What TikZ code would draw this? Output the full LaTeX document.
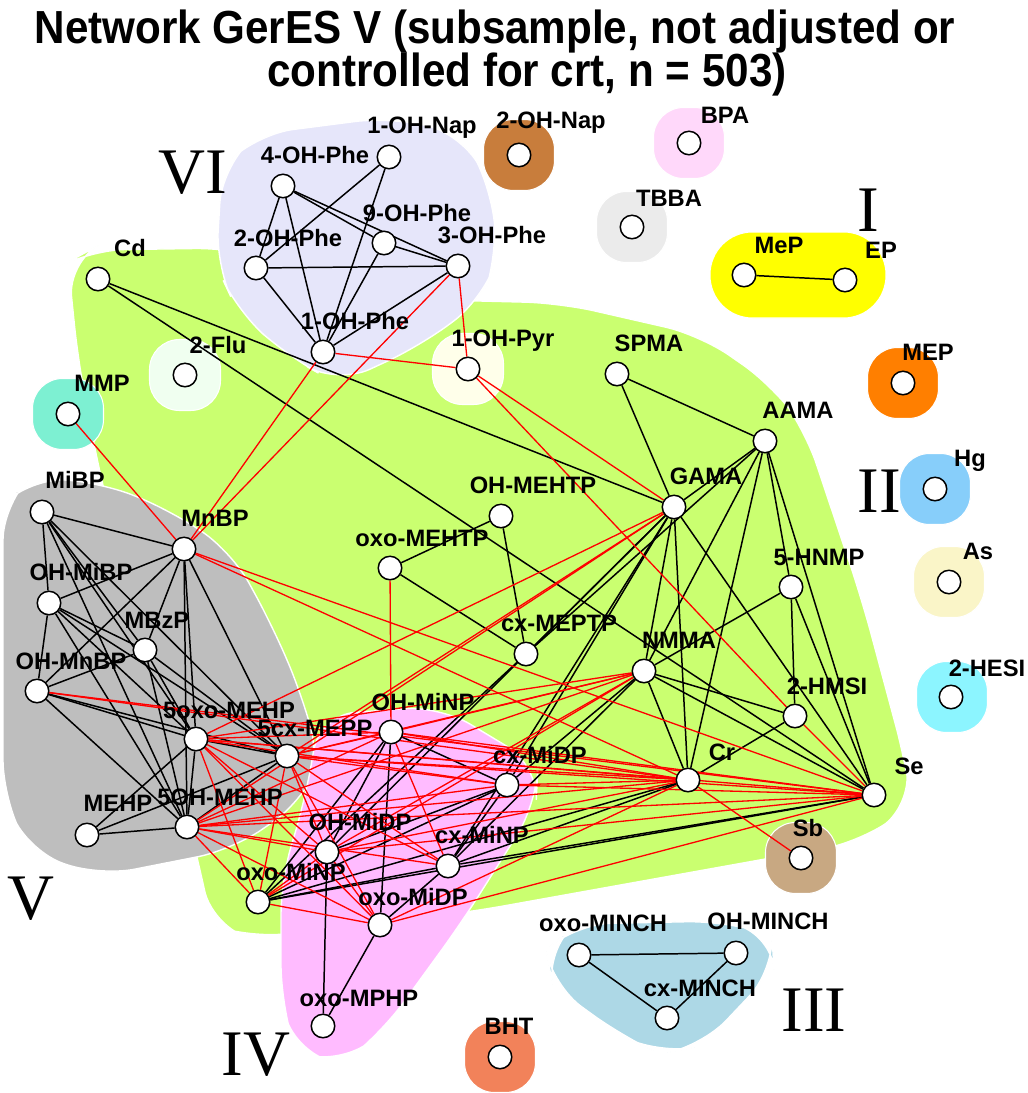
\documentclass[tikz,border=0pt]{standalone}
\usepackage{fontspec}
\setmainfont{Liberation Sans}
\newfontfamily\romanfont{Liberation Serif}
\pgfdeclarelayer{hulls}
\pgfdeclarelayer{links}
\pgfsetlayers{hulls,links,main}
\definecolor{gGreen}{HTML}{CAFF70}
\definecolor{gGray}{HTML}{BEBEBE}
\definecolor{gPink}{HTML}{FFBBFF}
\definecolor{gLav}{HTML}{E6E6FA}
\definecolor{gLBlue}{HTML}{ADD8E6}
\definecolor{gYellow}{HTML}{FFFF00}
\definecolor{gBrown}{HTML}{C87D3C}
\definecolor{gThistle}{HTML}{FFD8FA}
\definecolor{gLGray}{HTML}{EBEBEB}
\definecolor{gOrange}{HTML}{FF7F00}
\definecolor{gSky}{HTML}{87CEFA}
\definecolor{gCorn}{HTML}{FAF5C8}
\definecolor{gCyan}{HTML}{8CF5FF}
\definecolor{gTan}{HTML}{C8A882}
\definecolor{gCoral}{HTML}{F2825A}
\definecolor{gAqua}{HTML}{7DF0D2}
\definecolor{gHoney}{HTML}{F0FFF0}
\definecolor{gIvory}{HTML}{FFFFEA}
\begin{document}
\begin{tikzpicture}[x=0.02cm,y=-0.02cm,
  vtx/.style={circle,draw=black,fill=white,line width=0.85pt,minimum size=0.47cm,inner sep=0pt},
  lbl/.style={font=\fontsize{13.5}{15}\selectfont\bfseries,inner sep=0pt,text height=9.7pt,text depth=0pt},
  bk/.style={black,line width=0.85pt},
  rd/.style={red,line width=0.75pt},
  hull/.style={draw=white,line width=0.8pt,rounded corners=0.7cm},
  blob/.style={rectangle,minimum size=1.42cm,rounded corners=0.6cm,inner sep=0pt,draw=white,line width=0.6pt},
  numeral/.style={font=\romanfont\fontsize{37}{37}\selectfont,inner sep=0pt},
  ttl/.style={font=\fontsize{24}{28}\selectfont\bfseries,inner sep=0pt}]
\useasboundingbox (0,0) rectangle (1028,1093);

% ---------- group hulls ----------
\begin{pgfonlayer}{hulls}
\fill[white] (0,0) rectangle (1028,1093);
\filldraw[hull,fill=gGreen] (68,262) -- (90,250) -- (230,248) -- (440,300) -- (560,303)
  -- (700,335) -- (772,385) -- (805,430) -- (862,600) -- (905,760) -- (912,805)
  -- (860,842) -- (470,912) -- (250,938) -- (212,925) -- (198,860) -- (100,475)
  -- (78,360) -- cycle;
\filldraw[hull,fill=gGray] (3,505) -- (30,478) -- (100,482) -- (170,510) -- (232,552)
  -- (272,625) -- (302,695) -- (320,762) -- (302,802) -- (232,850) -- (100,876)
  -- (30,852) -- (3,795) -- cycle;
\filldraw[hull,fill=gPink] (320,715) -- (440,706) -- (538,765) -- (536,805) -- (462,922)
  -- (382,1032) -- (342,1064) -- (296,1052) -- (281,1000) -- (281,880) -- (305,800) -- cycle;
\filldraw[hull,fill=gLav] (222,168) -- (258,134) -- (390,117) -- (462,134) -- (492,190)
  -- (497,258) -- (482,300) -- (420,346) -- (338,384) -- (288,356) -- (238,312)
  -- (216,265) -- cycle;
\filldraw[hull,fill=gLBlue] (546,950) -- (576,924) -- (722,921) -- (772,935) -- (774,970)
  -- (702,1046) -- (660,1054) -- (622,1036) -- (553,986) -- cycle;
\filldraw[draw=white,line width=0.6pt,fill=gYellow,rounded corners=0.85cm]
  (710,232) rectangle (886,318);
\foreach \b/\x/\y/\c in {bNapB/519/155/gBrown, bBpa/689/143/gThistle, bTbba/632/227/gLGray,
  bMepo/903/383/gOrange, bHg/935/489/gSky, bAs/949/582/gCorn, bHesi/952/697/gCyan,
  bSb/801/858/gTan, bBht/500/1057/gCoral, bMmp/68/414/gAqua, bFlu/185/375/gHoney,
  bPyr/468/369/gIvory}
  \node[blob,fill=\c] (\b) at (\x,\y) {};
\end{pgfonlayer}

% ---------- vertices ----------
\foreach \id/\x/\y in {
  nap1/389/157, nap2/519/155, bpa/689/143, phe4/283/186, phe9/384/243, phe2/256/268,
  phe3/458/266, tbba/632/227, mep/744/275, ep/845/280, cd/98/279, phe1/323/352,
  flu/185/375, pyr/468/369, spma/617/374, mepo/903/383, mmp/68/414, aama/765/441,
  hg/935/489, gama/674/507, ohmehtp/501/516, mibp/42/512, mnbp/184/549,
  oxomehtp/390/568, hnmp/791/587, as/949/582, ohmibp/49/603, mbzp/145/650,
  cxmeptp/526/654, nmma/644/671, ohmnbp/37/691, hesi/951/697, hmsi/795/716,
  oxomehp/196/739, cxmepp/287/756, ohminp/391/732, cxmidp/507/785, cr/688/780,
  se/874/795, mehp/87/835, ohmehp/187/827, ohmidp/327/852, cxminp/448/866,
  sb/801/858, oxominp/258/902, oxomidp/380/925, oxominch/579/955, ohminch/736/953,
  cxminch/667/1018, oxomphp/323/1026, bht/500/1057}
  \node[vtx] (\id) at (\x,\y) {};

% ---------- black (positive) links ----------
\begin{pgfonlayer}{links}
\foreach \a/\b in {
  nap1/phe2, nap1/phe1, phe4/phe2, phe4/phe1, phe4/phe9, phe4/phe3, phe9/phe3,
  phe9/phe1, phe2/phe3, phe2/phe1, phe3/phe1, mep/ep,
  cd/gama, cd/se, spma/gama, spma/aama, ohmehtp/oxomehtp, ohmehtp/cxmeptp,
  oxomehtp/cxmeptp, gama/aama, gama/nmma, gama/cr, gama/se, gama/cxmeptp,
  gama/ohmidp, gama/cxmidp, gama/cxminp, aama/nmma, aama/cr, aama/hnmp, aama/se,
  aama/cxmeptp, hnmp/hmsi, hnmp/nmma, hnmp/se, hmsi/nmma, hmsi/cr, nmma/cr,
  nmma/se, nmma/cxmidp, nmma/cxminp, cr/cxminp, cr/oxominp, se/cxminp, se/oxominp,
  cxmeptp/oxominp,
  mibp/mnbp, mibp/ohmibp, mibp/mbzp, mibp/oxomehp, mibp/cxmepp, mibp/ohmehp,
  mnbp/ohmibp, mnbp/ohmnbp, mnbp/mbzp, mnbp/oxomehp, mnbp/ohmehp, mnbp/cxmepp,
  ohmibp/ohmnbp, ohmibp/mbzp, ohmibp/oxomehp, ohmibp/cxmepp, ohmibp/ohmehp,
  mbzp/oxomehp, mbzp/cxmepp, mbzp/ohmehp, mbzp/ohmnbp, ohmnbp/oxomehp,
  ohmnbp/cxmepp, ohmnbp/ohmehp, oxomehp/cxmepp, oxomehp/ohmehp, cxmepp/ohmehp,
  mehp/ohmehp, mehp/oxomehp, mehp/cxmepp,
  ohminp/cxmidp, ohminp/oxomidp, ohminp/ohmidp, ohmidp/oxomphp, oxomidp/oxomphp,
  oxomidp/cxminp, cxmidp/cxminp, oxominp/cxminp, oxominp/cxmidp, ohmidp/cxmidp,
  oxominp/ohminp,
  oxominch/ohminch, oxominch/cxminch, ohminch/cxminch}
  \draw[bk] (\a) -- (\b);

% ---------- red (negative) links ----------
\foreach \a/\b in {
  mmp/mnbp, phe1/mnbp, phe3/mnbp, phe1/pyr, phe3/pyr, pyr/gama, pyr/hmsi, hmsi/se,
  oxomehtp/ohminp, mnbp/se, mnbp/cr, ohmnbp/se, ohmnbp/cr,
  gama/oxomehp, gama/cxmepp, gama/ohmehp,
  nmma/oxomehp, nmma/cxmepp, nmma/ohmehp, nmma/ohminp, nmma/ohmidp, nmma/oxominp,
  cr/sb, cr/oxomehp, cr/cxmepp, cr/ohmehp, cr/ohminp, cr/cxmidp, cr/ohmidp, cr/oxomidp,
  se/oxomehp, se/cxmepp, se/ohmehp, se/ohminp, se/cxmidp, se/ohmidp, se/oxomidp,
  oxomehp/ohminp, oxomehp/cxmidp, oxomehp/ohmidp, oxomehp/oxominp, oxomehp/oxomidp,
  oxomehp/cxminp, cxmepp/ohminp, cxmepp/cxmidp, cxmepp/ohmidp, cxmepp/oxominp,
  cxmepp/oxomidp, cxmepp/cxminp, ohmehp/ohminp, ohmehp/cxmidp, ohmehp/ohmidp,
  ohmehp/oxominp, ohmehp/cxminp, ohmehp/oxomidp, ohminp/cxminp,
  ohmidp/oxomidp, ohmidp/oxominp, oxominp/oxomidp}
  \draw[rd] (\a) -- (\b);
\end{pgfonlayer}

% ---------- vertex labels ----------
\foreach \id/\x/\y/\t in {
  nap1/422/125/1-OH-Nap, nap2/551/120/2-OH-Nap, bpa/725/115/BPA,
  phe4/315/155/4-OH-Phe, phe9/417/213/9-OH-Phe, phe2/288/238/2-OH-Phe,
  phe3/492/235/3-OH-Phe, tbba/669/198/TBBA, mep/779/245/MeP, ep/881/250/EP,
  cd/130/248/Cd, phe1/355/321/1-OH-Phe, flu/218/345/2-Flu, pyr/503/338/1-OH-Pyr,
  spma/649/343/SPMA, mepo/928/352/MEP, mmp/102/383/MMP, aama/798/410/AAMA,
  hg/970/458/Hg, gama/706/476/GAMA, ohmehtp/533/485/OH-MEHTP, mibp/75/480/MiBP,
  mnbp/215/518/MnBP, oxomehtp/422/538/oxo-MEHTP, hnmp/819/557/5-HNMP,
  as/978/551/As, ohmibp/81/572/OH-MiBP, mbzp/157/620/MBzP,
  cxmeptp/559/623/cx-MEPTP, nmma/679/640/NMMA, ohmnbp/71/661/OH-MnBP,
  hesi/987/668/2-HESI, hmsi/827/686/2-HMSI, oxomehp/229/710/5oxo-MEHP,
  cxmepp/315/728/5cx-MEPP, ohminp/423/702/OH-MiNP, cxmidp/540/755/cx-MiDP,
  cr/722/752/Cr, se/909/766/Se, mehp/118/803/MEHP, ohmehp/220/797/5OH-MEHP,
  ohmidp/360/822/OH-MiDP, cxminp/482/835/cx-MiNP, sb/808/828/Sb,
  oxominp/291/872/oxo-MiNP, oxomidp/413/897/oxo-MiDP,
  oxominch/603/923/oxo-MINCH, ohminch/768/921/OH-MINCH,
  cxminch/700/988/cx-MINCH, oxomphp/359/998/oxo-MPHP, bht/509/1026/BHT}
  \node[lbl] (l\id) at (\x,\y) {\t};

% ---------- group numerals ----------
\node[numeral] (gVI) at (193,173) {VI};
\node[numeral] (gI) at (868,210) {I};
\node[numeral] (gII) at (879,491) {II};
\node[numeral] (gV) at (31,899) {V};
\node[numeral] (gIV) at (256,1055) {IV};
\node[numeral] (gIII) at (814,1010) {III};

% ---------- title ----------
\node[ttl] (title1) at (495,32) {\scalebox{1}[1.1]{Network GerES V (subsample, not adjusted or}};
\node[ttl] (title2) at (527,75) {\scalebox{1}[1.1]{controlled for crt, n = 503)}};
\end{tikzpicture}
\end{document}
